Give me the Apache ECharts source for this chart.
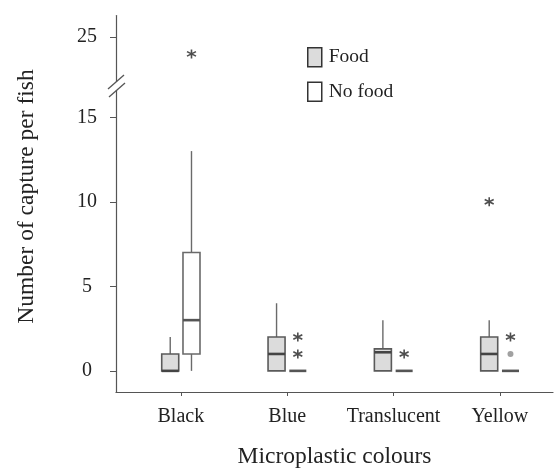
<!DOCTYPE html>
<html>
<head>
<meta charset="utf-8">
<script src="https://cdn.jsdelivr.net/npm/echarts@6.0.0/dist/echarts.min.js"></script>
<style>html,body{margin:0;padding:0;background:#fff}#c{width:554px;height:468px}</style>
</head>
<body>
<div id="c"></div>
<script>
// ---- data ----
const categories = ['Black', 'Blue', 'Translucent', 'Yellow'];
// [min, Q1, median, Q3, max] per category
const foodBox = [[0, 0, 0, 1, 2], [0, 0, 1, 2, 4], [0, 0, 1.1, 1.3, 3], [0, 0, 1, 2, 3]];
const noFoodBox = [[0, 1, 3, 7, 13], [0, 0, 0, 0, 0], [0, 0, 0, 0, 0], [0, 0, 0, 0, 0]];
// extreme outliers (*) : [categoryIndex (1-based), value]
const foodExtremes = [[4, 10]];
const noFoodExtremes = [[1, 24], [2, 2], [2, 1], [3, 1], [4, 2]];
// mild outliers (dot)
const noFoodOutliers = [[4, 1]];
const yTicks = [0, 5, 10, 15, 25];
const xTicks = [1, 2, 3, 4];

const FONT = 'Liberation Serif';
const OFF = 0.1;      // group offset in category units
const BOXW = 0.16;    // box width in category units

function boxData(arr) {
  return arr.map((v, i) => [i + 1].concat(v));
}
function makeRender(offset, fill, border, medColor) {
  return function (params, api) {
    const x = api.value(0) + offset;
    const vmin = api.value(1), q1 = api.value(2), med = api.value(3), q3 = api.value(4), vmax = api.value(5);
    const w = api.size([BOXW, 0])[0];
    const pMin = api.coord([x, vmin]);
    const pQ1 = api.coord([x, q1]);
    const pMed = api.coord([x, med]);
    const pQ3 = api.coord([x, q3]);
    const pMax = api.coord([x, vmax]);
    const cx = pMed[0];
    const children = [];
    if (vmax > q3) children.push({type: 'line', shape: {x1: cx, y1: pQ3[1], x2: cx, y2: pMax[1]}, style: {stroke: '#6a6a6a', lineWidth: 1.4}});
    if (vmin < q1) children.push({type: 'line', shape: {x1: cx, y1: pQ1[1], x2: cx, y2: pMin[1]}, style: {stroke: '#6a6a6a', lineWidth: 1.4}});
    if (q3 > q1) {
      children.push({type: 'rect', shape: {x: cx - w / 2, y: pQ3[1], width: w, height: pQ1[1] - pQ3[1]}, style: {fill: fill, stroke: border, lineWidth: 1.6}});
    }
    children.push({type: 'line', shape: {x1: cx - w / 2, y1: pMed[1], x2: cx + w / 2, y2: pMed[1]}, style: {stroke: medColor, lineWidth: 2.6}});
    return {type: 'group', children: children};
  };
}
function shiftPts(arr, offset) {
  return arr.map(p => [p[0] + offset, p[1]]);
}
const starPath = 'path://M5 0L5 10M0.67 2.5L9.33 7.5M0.67 7.5L9.33 2.5';

const chart = echarts.init(document.getElementById('c'), null, {renderer: 'canvas'});
const option = {
  animation: false,
  backgroundColor: '#fff',
  grid: {left: 116, right: 1, top: 15, bottom: 76, containLabel: false, outerBoundsMode: 'none'},
  legend: {
    orient: 'vertical', left: 307, top: 47, padding: 0, itemWidth: 14, itemHeight: 19, itemGap: 14, icon: 'rect',
    textStyle: {fontFamily: FONT, fontSize: 19.5, color: '#222', padding: [0, 0, 0, 2]},
    data: [
      {name: 'Food', itemStyle: {color: '#dcdcdc', borderColor: '#333', borderWidth: 1.5}},
      {name: 'No food', itemStyle: {color: '#fff', borderColor: '#333', borderWidth: 1.5}}
    ]
  },
  xAxis: {
    type: 'value', min: 0.39, max: 4.5,
    name: 'Microplastic colours', nameLocation: 'middle', nameGap: 53,
    nameTextStyle: {fontFamily: FONT, fontSize: 23.5, color: '#222'},
    splitLine: {show: false},
    axisLine: {show: true, onZero: false, lineStyle: {color: '#555', width: 1.2}},
    axisTick: {show: true, length: 4, customValues: xTicks, lineStyle: {color: '#555'}},
    axisLabel: {customValues: xTicks, margin: 15, fontFamily: FONT, fontSize: 20, color: '#222',
      formatter: v => categories[Math.round(v) - 1] || ''}
  },
  yAxis: {
    type: 'value', min: -1.25, max: 26.3,
    breaks: [{start: 16.7, end: 22.25, gap: 0.3}],
    breakArea: {show: true, zigzagAmplitude: 0, itemStyle: {color: 'rgba(0,0,0,0)', borderColor: 'rgba(0,0,0,0)', borderWidth: 0}, expandOnClick: false},
    name: 'Number of capture per fish', nameLocation: 'middle', nameGap: 77,
    nameTextStyle: {fontFamily: FONT, fontSize: 23.5, color: '#222', padding: [0, 0, 0, 14]},
    splitLine: {show: false},
    axisLine: {show: true, onZero: false, lineStyle: {color: '#555', width: 1.2}},
    axisTick: {show: true, length: 6, customValues: yTicks, lineStyle: {color: '#555'}},
    axisLabel: {customValues: yTicks, margin: 29, align: 'center', fontFamily: FONT, fontSize: 20, color: '#222'}
  },
  series: [
    {name: 'Food', type: 'custom', data: boxData(foodBox), encode: {x: 0, y: [1, 2, 3, 4, 5]},
      itemStyle: {color: '#dcdcdc'}, renderItem: makeRender(-OFF, '#dcdcdc', '#5a5a5a', '#444'), z: 3},
    {name: 'No food', type: 'custom', data: boxData(noFoodBox), encode: {x: 0, y: [1, 2, 3, 4, 5]},
      itemStyle: {color: '#fff'}, renderItem: makeRender(OFF, '#fff', '#6a6a6a', '#555'), z: 3},
    {name: 'food*', type: 'scatter', data: shiftPts(foodExtremes, -OFF), symbol: starPath, symbolSize: 9,
      itemStyle: {color: 'none', borderColor: '#222', borderWidth: 1.6}, z: 4},
    {name: 'nofood*', type: 'scatter', data: shiftPts(noFoodExtremes, OFF), symbol: starPath, symbolSize: 9,
      itemStyle: {color: 'none', borderColor: '#222', borderWidth: 1.6}, z: 4},
    {name: 'nofood o', type: 'scatter', data: shiftPts(noFoodOutliers, OFF), symbol: 'circle', symbolSize: 6,
      itemStyle: {color: '#8a8a8a'}, z: 4}
  ]
};
chart.setOption(option);

// axis break marks (two slashes)
const yS = chart.convertToPixel({yAxisIndex: 0}, 16.7);
const yE = chart.convertToPixel({yAxisIndex: 0}, 22.25);
const ax = chart.convertToPixel({xAxisIndex: 0}, 0.39);
const yc = (yS + yE) / 2;
chart.setOption({
  graphic: [
    {type: 'rect', shape: {x: ax - 3, y: yc - 4, width: 6, height: 8}, style: {fill: '#fff'}, z: 100},
    {type: 'line', shape: {x1: ax - 8, y1: yc + 3, x2: ax + 8, y2: yc - 11}, style: {stroke: '#555', lineWidth: 1.3}, z: 101},
    {type: 'line', shape: {x1: ax - 7, y1: yc + 11, x2: ax + 9, y2: yc - 3}, style: {stroke: '#555', lineWidth: 1.3}, z: 101}
  ]
});
</script>
</body>
</html>
